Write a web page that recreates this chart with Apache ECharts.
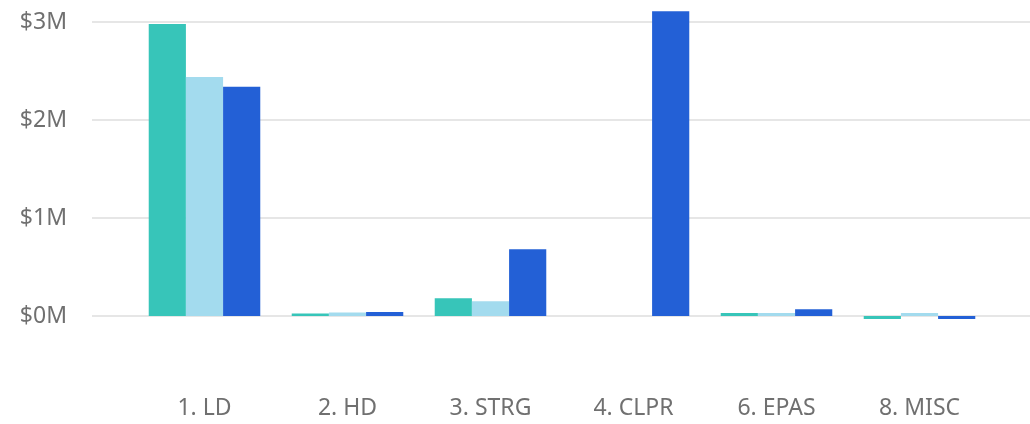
<!DOCTYPE html>
<html>
<head>
<meta charset="utf-8">
<script src="https://cdn.jsdelivr.net/npm/echarts@6/dist/echarts.min.js"></script>
<style>
  html, body { margin: 0; padding: 0; background: #fff; }
  #chart { width: 1030px; height: 424px; }
</style>
</head>
<body>
<div id="chart"></div>
<script>
// data (values in dollars)
const categories = ['1. LD', '2. HD', '3. STRG', '4. CLPR', '6. EPAS', '8. MISC'];
const seriesA = [2980000, 25000, 180000, 0, 30000, -30000];
const seriesB = [2440000, 35000, 150000, 0, 30000, 30000];
const seriesC = [2340000, 40000, 680000, 3110000, 70000, -30000];
const yTicks = [0, 1000000, 2000000, 3000000];

const colors = ['#37C5B9', '#A3DBEE', '#2360D6'];
const font = '"Segoe UI", "Noto Sans", sans-serif';

const chart = echarts.init(document.getElementById('chart'));

const bar = (data, i) => ({
  type: 'bar',
  data: data,
  xAxisIndex: 1,
  yAxisIndex: 1,
  barGap: 0,
  barCategoryGap: '22%',
  itemStyle: { color: colors[i] },
  emphasis: { disabled: true }
});

chart.setOption({
  animation: false,
  grid: [
    // grid for the y labels and split lines
    { left: 92, right: 0, top: 22, bottom: 108 },
    // grid for the bars
    { left: 133, right: 39, top: 2.4, bottom: 88.4 }
  ],
  xAxis: [
    { gridIndex: 0, type: 'category', data: categories, show: false },
    {
      gridIndex: 1,
      type: 'category',
      data: categories,
      axisLine: { show: false },
      axisTick: { show: false },
      axisLabel: { margin: 61, color: '#707070', fontSize: 23, fontFamily: font }
    }
  ],
  yAxis: [
    {
      gridIndex: 0,
      type: 'value',
      min: yTicks[0],
      max: yTicks[yTicks.length - 1],
      interval: 1000000,
      axisLine: { show: false },
      axisTick: { show: false },
      axisLabel: {
        margin: 25,
        color: '#707070',
        fontSize: 23,
        fontFamily: font,
        formatter: v => '$' + (v / 1000000) + 'M'
      },
      splitLine: { lineStyle: { color: '#E6E6E6', width: 2 } }
    },
    {
      gridIndex: 1,
      type: 'value',
      min: -200000,
      max: 3200000,
      show: false,
      splitLine: { show: false }
    }
  ],
  series: [bar(seriesA, 0), bar(seriesB, 1), bar(seriesC, 2)]
});
</script>
</body>
</html>
